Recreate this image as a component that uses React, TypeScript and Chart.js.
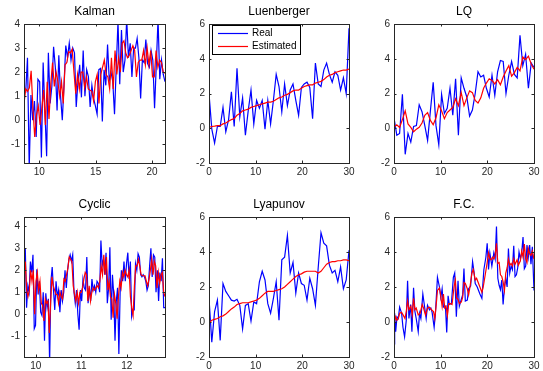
import React, { useEffect, useRef } from "react";
import { Chart, registerables } from "chart.js";

Chart.register(...registerables);

const BLUE = "#0000ff";
const RED = "#ff0000";
const AXIS = "#262626";
const FONT = "Arial, 'Liberation Sans', Helvetica, sans-serif";

const LEGEND_LABELS = ["Real", "Estimated"];

// ---------- Kalman ----------
const kalmanRange = [8.65, 21.15];
const kalmanReal = [1.3, 1.2, 2.6, -2.0, 1.05, 0.0, 0.8, -0.7, 1.7, 1.6,
  -1.55, 2.4, 0.4, -1.5, 2.8, 0.7, 1.4, 3.05, 2.2, 0.4,
  2.7, 1.0, 0.0, 1.5, 3.1, 2.6, 3.2, 2.5, 3.0, 2.8,
  0.55, 1.6, 2.3, 0.95, 2.9, 1.0, 2.1, 1.8, 0.55, 1.45,
  0.9, 0.6, 0.25, 2.1, 2.15, -0.05, 2.1, 1.45, 3.15, 1.65,
  2.0, 1.6, 0.25, 2.2, 4.1, 1.5, 3.75, 2.0, 2.5, 4.2,
  2.6, 3.2, 1.8, 3.0, 3.0, 3.4, 2.6, 0.9, 2.5, 2.4,
  3.35, 2.35, 2.2, 2.9, 2.5, 0.5, 2.3, 4.2, 1.7, 2.5,
  1.9, 1.6];
const kalmanEst = [0.7, 1.3, 1.2, 1.35, 2.05, 0.5, -0.7, 0.2, 0.6, -0.2,
  0.5, 1.25, -0.2, 1.6, 0.05, 1.5, 2.4, 1.4, 2.0, 1.6,
  1.0, 1.6, 0.7, 2.3, 2.4, 2.85, 2.8, 2.95, 2.0, 1.1,
  1.9, 1.3, 2.0, 2.0, 1.35, 1.8, 1.3, 1.25, 1.2, 0.8,
  1.6, 1.9, 0.7, 1.9, 2.2, 2.5, 1.9, 1.8, 1.3, 2.6,
  1.3, 2.9, 1.9, 2.6, 2.0, 3.2, 3.3, 2.8, 2.6, 2.7,
  2.9, 3.1, 2.9, 1.8, 2.4, 2.5, 2.5, 2.9, 2.3, 3.0,
  2.3, 2.9, 1.8, 1.8, 2.9, 2.2, 2.5, 2.4, 2.0, 1.95];

// ---------- Luenberger (t = 0 : 0.6 : 30) ----------
const stepRange = [0, 30];
const luenReal = [2.0, -0.05, -0.85, 0.1, 0.1, 1.2, -0.2, 0.5, 2.1, 0.1,
  3.45, 0.65, 1.75, -0.4, 1.0, 2.2, 0.25, 1.6, 1.15, 1.6,
  -0.05, 1.6, 0.25, 1.6, 3.1, 2.4, 0.95, 2.55, 1.3, 2.2,
  2.55, 1.6, 0.75, 2.35, 2.55, 2.65, 2.35, 0.55, 3.75, 2.55,
  2.4, 3.35, 3.75, 3.1, 2.65, 3.25, 3.05, 2.2, 2.9, 2.0,
  5.75];
const luenEst = [0.05, 0.1, 0.12, 0.15, 0.15, 0.25, 0.3, 0.4, 0.5, 0.55,
  0.75, 0.85, 1.0, 1.05, 1.1, 1.2, 1.25, 1.3, 1.35, 1.4,
  1.45, 1.5, 1.5, 1.55, 1.65, 1.75, 1.8, 1.9, 1.95, 2.05,
  2.15, 2.2, 2.2, 2.3, 2.4, 2.45, 2.5, 2.5, 2.6, 2.65,
  2.7, 2.8, 2.95, 3.05, 3.1, 3.2, 3.25, 3.3, 3.35, 3.35,
  3.4];

// ---------- LQ ----------
const lqReal = [0.6, -0.4, -0.3, 1.95, -1.5, -0.3, -0.8, 0.1, 0.15, 1.35,
  0.95, 0.15, -0.7, 1.0, 2.65, 0.15, -0.95, 1.95, 0.85, 1.15,
  2.3, 0.75, 2.85, -0.4, 2.9, 2.3, 1.8, 0.7, 1.05, 2.0,
  3.25, 2.95, 3.05, 2.3, 1.8, 3.05, 1.9, 3.25, 3.9, 3.85,
  2.0, 3.05, 3.85, 3.1, 2.9, 5.35, 3.6, 4.25, 2.3, 3.75,
  3.5];
const lqEst = [0.05, 0.2, 0.05, 0.5, 1.0, 0.25, 0.05, -0.2, -0.05, 0.05,
  0.3, 0.75, 0.9, 0.45, 0.2, 0.6, 1.35, 1.0, 0.55, 0.9,
  1.05, 1.2, 1.7, 1.3, 2.05, 1.3, 1.75, 2.15, 2.05, 1.6,
  1.45, 1.75, 2.3, 2.6, 2.85, 2.75, 2.55, 2.8, 2.5, 2.95,
  3.3, 3.6, 3.0, 3.2, 3.5, 3.3, 4.1, 3.95, 4.15, 3.7,
  3.4];

// ---------- Cyclic ----------
const cyclicRange = [9.74, 12.84];
const cyclicReal = [1.5, 3.0, 0.3, 1.3, 1.0, 2.4, 1.9, 2.7, -0.65, -0.5,
  2.05, 0.9, 1.5, 0.1, -0.05, 1.0, -1.2, 0.95, 0.3, 0.7,
  -2.2, 1.5, 2.15, 1.1, 0.2, 1.5, 0.8, 1.1, 0.1, 1.1,
  0.6, 1.0, 2.0, 1.2, 2.0, 2.5, 2.7, 2.4, 2.7, 1.0,
  0.5, 1.1, 0.0, -0.7, 1.1, 0.6, 1.6, 1.2, 1.1, 2.6,
  0.5, 1.2, 0.6, 1.6, 1.1, 1.3, 1.0, 1.5, 1.4, 1.0,
  3.35, 2.2, 2.5, 1.8, 2.8, 0.5, 1.2, 3.05, -0.25, 1.8,
  0.9, -1.2, 0.6, 1.2, -1.8, 1.0, 2.0, 1.5, 2.4, 1.5,
  2.3, 2.8, 1.6, 2.4, -0.1, 0.2, 0.2, 2.3, 2.0, 2.75,
  2.6, 1.8, 1.7, 1.8, 1.7, 1.5, 1.1, 1.3, 2.2, 3.0,
  1.7, 2.7, 2.6, 1.0, 2.0, 0.6, 1.9, 1.5, 2.55, 0.3,
  0.3];
const cyclicEst = [1.5, 2.4, 1.1, 0.8, 1.1, 2.0, 1.5, 2.0, 0.0, 1.5,
  1.9, 1.1, 1.5, 0.5, 0.4, -0.3, 0.7, 0.5, 0.6, -0.85,
  0.5, 1.7, 1.3, 1.1, 0.9, 0.9, 0.5, 1.0, 0.8, 0.7,
  1.6, 1.5, 1.8, 2.1, 2.6, 2.5, 2.4, 1.3, 0.9, 0.6,
  1.0, 0.5, 1.0, 1.0, 1.2, 1.6, 1.9, 1.8, 0.6, 1.3,
  0.6, 1.0, 1.2, 1.1, 1.2, 1.3, 1.2, 1.5, 2.2, 1.8,
  2.7, 1.8, 2.6, 1.1, 1.5, 0.8, 0.7, -0.15, 0.9, 0.5,
  -0.2, 0.8, 1.5, 1.2, 1.9, 1.7, 2.0, 1.8, 1.7, 2.0,
  0.8, 0.3, -0.05, 1.3, 2.2, 2.2, 2.5, 2.2, 1.8, 1.75,
  1.75, 1.75, 1.5, 1.3, 1.6, 2.0, 2.5, 1.8, 2.4, 2.2,
  1.2, 1.9, 1.4, 1.8, 1.9, 1.0, 0.8];

// ---------- Lyapunov ----------
const lyapReal = [1.35, -1.15, 0.6, 1.25, -1.05, 2.2, 1.75, 1.5, 1.25, 1.2,
  1.3, 0.95, -0.4, 0.95, 1.05, 0.05, 1.15, 1.05, 2.3, 2.9,
  2.4, 1.05, 0.5, 1.35, 2.3, 0.1, 3.55, 3.7, 4.95, 2.8,
  3.4, 1.65, 2.8, 2.2, 2.1, 1.25, 2.5, 1.9, 0.95, 3.1,
  5.1, 4.5, 4.35, 3.25, 2.8, 2.95, 2.3, 3.15, 1.9, 2.4,
  4.1];
const lyapEst = [-0.05, 0.1, 0.15, 0.2, 0.3, 0.35, 0.45, 0.6, 0.75, 0.85,
  1.0, 1.05, 1.1, 1.1, 1.1, 1.15, 1.2, 1.25, 1.35, 1.5,
  1.65, 1.75, 1.75, 1.75, 1.8, 1.85, 1.9, 2.0, 2.15, 2.3,
  2.45, 2.6, 2.7, 2.75, 2.85, 2.9, 2.9, 2.9, 2.9, 2.8,
  2.9, 3.1, 3.3, 3.4, 3.45, 3.45, 3.5, 3.5, 3.55, 3.55,
  3.5];

// ---------- F.C. (explicit sample times) ----------
const fcRealT = [0, 0.14, 0.36, 0.64, 0.92, 1.21, 1.63, 1.92, 2.27, 2.63,
  2.91, 3.2, 3.55, 3.84, 4.19, 4.48, 4.76, 5.19, 5.47, 5.76,
  6.18, 6.54, 6.89, 7.18, 7.6, 7.89, 8.17, 8.6, 8.88, 9.31,
  9.74, 10.02, 10.31, 10.59, 11.02, 11.3, 11.59, 11.87, 12.3, 12.72,
  13.01, 13.36, 13.72, 14.0, 14.43, 14.71, 14.99, 15.28, 15.71, 15.99,
  16.42, 16.84, 17.13, 17.41, 17.84, 18.12, 18.41, 18.83, 19.26, 19.69,
  19.97, 20.26, 20.54, 20.97, 21.39, 21.68, 21.96, 22.25, 22.53, 22.81,
  23.1, 23.38, 23.67, 23.95, 24.24, 24.52, 24.8, 25.09, 25.37, 25.66,
  25.94, 26.23, 26.51, 26.79, 27.08, 27.36, 27.65, 27.93, 28.22, 28.5,
  28.78, 29.07, 29.35, 29.64, 30.0];
const fcRealY = [-1.25, 0.5, -0.55, 0.3, 0.2, 0.85, 0.5, -0.3, -0.85, 0.1,
  2.35, 0.2, 1.0, -0.55, 1.95, 0.6, 0.2, -0.55, 0.5, 0.2,
  1.6, 0.9, 0.2, 0.95, 0.7, 0.8, 0.55, -0.3, 0.5, 2.55,
  2.0, 1.4, 1.9, 0.85, 0.9, -0.6, 1.5, 1.0, 1.05, 2.55,
  2.8, 0.3, 2.35, 0.9, 1.3, 1.55, 3.05, 1.2, 1.25, 1.9,
  2.05, 3.45, 2.9, 2.2, 2.0, 1.8, 1.6, 1.35, 3.0, 3.7,
  4.5, 3.0, 3.95, 3.2, 3.95, 3.6, 5.45, 2.5, 2.1, 1.85,
  2.4, 1.0, 2.0, 2.5, 2.0, 4.2, 2.8, 3.2, 3.0, 4.35,
  2.6, 2.7, 3.1, 4.0, 3.6, 3.95, 4.85, 3.05, 3.2, 4.4,
  3.7, 4.4, 3.3, 4.3, 1.8];
const fcEstT = [0, 0.36, 0.64, 0.92, 1.21, 1.63, 2.06, 2.35, 2.63, 2.91,
  3.2, 3.62, 3.91, 4.19, 4.48, 4.76, 5.19, 5.61, 6.04, 6.33,
  6.75, 7.18, 7.6, 8.03, 8.46, 8.74, 9.03, 9.31, 9.74, 10.02,
  10.31, 10.59, 10.87, 11.16, 11.44, 11.73, 12.15, 12.44, 12.86, 13.15,
  13.43, 13.72, 14.0, 14.43, 14.71, 15.0, 15.28, 15.71, 15.99, 16.28,
  16.7, 16.99, 17.41, 17.7, 17.98, 18.41, 18.83, 19.12, 19.55, 19.97,
  20.26, 20.54, 20.82, 21.11, 21.39, 21.68, 21.96, 22.25, 22.53, 22.81,
  23.1, 23.38, 23.67, 23.95, 24.24, 24.52, 24.8, 25.09, 25.37, 25.66,
  25.94, 26.37, 26.65, 27.08, 27.36, 27.65, 27.93, 28.22, 28.5, 28.78,
  29.07, 29.35, 29.64, 30.0];
const fcEstY = [-0.1, 0.3, 0.1, 0.2, 0.5, 0.55, 0.35, 0.2, 0.6, 1.2,
  0.7, 0.9, 0.4, 1.35, 0.7, 0.8, 0.4, 0.5, 1.0, 0.8,
  0.4, 0.8, 0.85, 0.7, 0.6, 0.2, 0.95, 1.8, 1.95, 1.5,
  0.9, 1.6, 0.8, 0.9, 0.35, 1.05, 1.05, 1.0, 2.0, 2.4,
  1.35, 1.3, 1.05, 1.15, 1.4, 2.25, 2.2, 1.9, 1.55, 2.0,
  2.8, 3.0, 2.4, 2.5, 2.3, 2.0, 1.7, 2.0, 2.7, 3.4,
  3.95, 3.6, 3.55, 3.7, 3.6, 3.8, 4.5, 3.35, 3.4, 2.7,
  2.6, 2.3, 1.8, 2.8, 3.1, 3.6, 3.25, 3.35, 3.2, 3.6,
  3.3, 3.55, 3.25, 3.5, 4.05, 3.7, 4.45, 3.6, 3.4, 4.2,
  3.9, 3.8, 4.05, 3.6];

// ---------- tick labels ----------
const kalmanXTicks = [10, 15, 20];
const kalmanYTicks = [-1, 0, 1, 2, 3, 4];
const cyclicXTicks = [10, 11, 12];
const cyclicYTicks = [-1, 0, 1, 2, 3, 4];
const stepXTicks = [0, 10, 20, 30];
const stepYTicks = [-2, 0, 2, 4, 6];

type Pt = { x: number; y: number };
const evenly = (vals: number[], range: number[]): Pt[] =>
  vals.map((v, i) => ({ x: range[0] + (i * (range[1] - range[0])) / (vals.length - 1), y: v }));
const paired = (ts: number[], ys: number[]): Pt[] => ts.map((t, i) => ({ x: t, y: ys[i] }));

type Spec = {
  title: string;
  box: [number, number, number, number];
  xr: number[];
  yr: number[];
  xTicks: number[];
  yTicks: number[];
  real: Pt[];
  est: Pt[];
  legend?: boolean;
};

const PAD_L = 30, PAD_T = 24, PAD_R = 10, PAD_B = 20;

const specs: Spec[] = [
  { title: "Kalman", box: [24, 24, 141, 139], xr: kalmanRange, yr: [-1.78, 4], xTicks: kalmanXTicks, yTicks: kalmanYTicks,
    real: evenly(kalmanReal, kalmanRange), est: evenly(kalmanEst, kalmanRange) },
  { title: "Luenberger", box: [209, 24, 140, 139], xr: stepRange, yr: [-2, 6], xTicks: stepXTicks, yTicks: stepYTicks,
    real: evenly(luenReal, stepRange), est: evenly(luenEst, stepRange), legend: true },
  { title: "LQ", box: [394, 24, 140, 139], xr: stepRange, yr: [-2, 6], xTicks: stepXTicks, yTicks: stepYTicks,
    real: evenly(lqReal, stepRange), est: evenly(lqEst, stepRange) },
  { title: "Cyclic", box: [24, 217, 141, 140], xr: cyclicRange, yr: [-1.94, 4.42], xTicks: cyclicXTicks, yTicks: cyclicYTicks,
    real: evenly(cyclicReal, cyclicRange), est: evenly(cyclicEst, cyclicRange) },
  { title: "Lyapunov", box: [209, 217, 140, 140], xr: stepRange, yr: [-2, 6], xTicks: stepXTicks, yTicks: stepYTicks,
    real: evenly(lyapReal, stepRange), est: evenly(lyapEst, stepRange) },
  { title: "F.C.", box: [394, 217, 140, 140], xr: stepRange, yr: [-2, 6], xTicks: stepXTicks, yTicks: stepYTicks,
    real: paired(fcRealT, fcRealY), est: paired(fcEstT, fcEstY) },
];

function Panel({ spec }: { spec: Spec }) {
  const ref = useRef<HTMLCanvasElement>(null);
  const [bl, bt, bw, bh] = spec.box;
  const W = bw + PAD_L + PAD_R;
  const H = bh + PAD_T + PAD_B;

  useEffect(() => {
    if (!ref.current) return;
    const frame = {
      id: "frame",
      afterDatasetsDraw(chart: any) {
        const { ctx, chartArea: ca, scales } = chart;
        ctx.save();
        const L = Math.round(ca.left), T = Math.round(ca.top), R = Math.round(ca.right), B = Math.round(ca.bottom);
        ctx.strokeStyle = AXIS;
        ctx.lineWidth = 1;
        const tl = 2.5;
        ctx.beginPath();
        for (const v of spec.xTicks) {
          const px = Math.round(scales.x.getPixelForValue(v)) + 0.5;
          ctx.moveTo(px, B); ctx.lineTo(px, B - tl);
          ctx.moveTo(px, T); ctx.lineTo(px, T + tl);
        }
        for (const v of spec.yTicks) {
          const py = Math.round(scales.y.getPixelForValue(v)) + 0.5;
          ctx.moveTo(L, py); ctx.lineTo(L + tl, py);
          ctx.moveTo(R, py); ctx.lineTo(R - tl, py);
        }
        ctx.stroke();
        ctx.strokeRect(L + 0.5, T + 0.5, R - L, B - T);

        if (spec.legend) {
          const lx = L + 3, ly = T + 1, lw = 88, lh = 29;
          ctx.fillStyle = "#ffffff";
          ctx.fillRect(lx, ly, lw, lh);
          ctx.strokeStyle = "#000000";
          ctx.strokeRect(lx + 0.5, ly + 0.5, lw, lh);
          const colors = [BLUE, RED];
          ctx.font = `10px ${FONT}`;
          ctx.textAlign = "left";
          ctx.textBaseline = "middle";
          LEGEND_LABELS.forEach((lab, i) => {
            const y = ly + 8 + i * 13 + 0.5;
            ctx.strokeStyle = colors[i];
            ctx.lineWidth = 1.2;
            ctx.beginPath();
            ctx.moveTo(lx + 6, y); ctx.lineTo(lx + 36, y);
            ctx.stroke();
            ctx.fillStyle = "#000000";
            ctx.fillText(lab, lx + 40, y);
          });
        }

        ctx.fillStyle = "#000000";
        ctx.font = `12px ${FONT}`;
        ctx.textAlign = "center";
        ctx.textBaseline = "middle";
        ctx.fillText(spec.title, (L + R) / 2, T - 12);
        ctx.restore();
      },
    };

    const tickFont = { family: FONT, size: 10 };
    const chart = new Chart(ref.current, {
      type: "line",
      data: {
        datasets: [
          { label: LEGEND_LABELS[0], data: spec.real, borderColor: BLUE, borderWidth: 1.2, pointRadius: 0, fill: false, tension: 0, order: 2 },
          { label: LEGEND_LABELS[1], data: spec.est, borderColor: RED, borderWidth: 1.2, pointRadius: 0, fill: false, tension: 0, order: 1 },
        ],
      },
      options: {
        animation: false,
        responsive: false,
        devicePixelRatio: 1,
        layout: { padding: { top: PAD_T, right: PAD_R, left: 0, bottom: 0 } },
        plugins: { legend: { display: false }, tooltip: { enabled: false }, title: { display: false } },
        scales: {
          x: {
            type: "linear",
            min: spec.xr[0],
            max: spec.xr[1],
            grid: { display: false, drawTicks: false },
            border: { display: false },
            ticks: { font: tickFont, color: AXIS, padding: 3, maxRotation: 0, autoSkip: false },
            afterBuildTicks: (s: any) => { s.ticks = spec.xTicks.map((v) => ({ value: v })); },
            afterFit: (s: any) => { s.height = PAD_B; },
          },
          y: {
            type: "linear",
            min: spec.yr[0],
            max: spec.yr[1],
            grid: { display: false, drawTicks: false },
            border: { display: false },
            ticks: { font: tickFont, color: AXIS, padding: 4, autoSkip: false },
            afterBuildTicks: (s: any) => { s.ticks = spec.yTicks.map((v) => ({ value: v })); },
            afterFit: (s: any) => { s.width = PAD_L; },
          },
        },
      } as any,
      plugins: [frame],
    });
    return () => chart.destroy();
  }, [spec]);

  return (
    <canvas
      ref={ref}
      width={W}
      height={H}
      style={{ position: "absolute", left: bl - PAD_L, top: bt - PAD_T, width: W, height: H }}
    />
  );
}

export default function App() {
  return (
    <div style={{ position: "fixed", left: 0, top: 0, width: 543, height: 371, background: "#ffffff", overflow: "hidden" }}>
      {specs.map((s) => (
        <Panel key={s.title} spec={s} />
      ))}
    </div>
  );
}
